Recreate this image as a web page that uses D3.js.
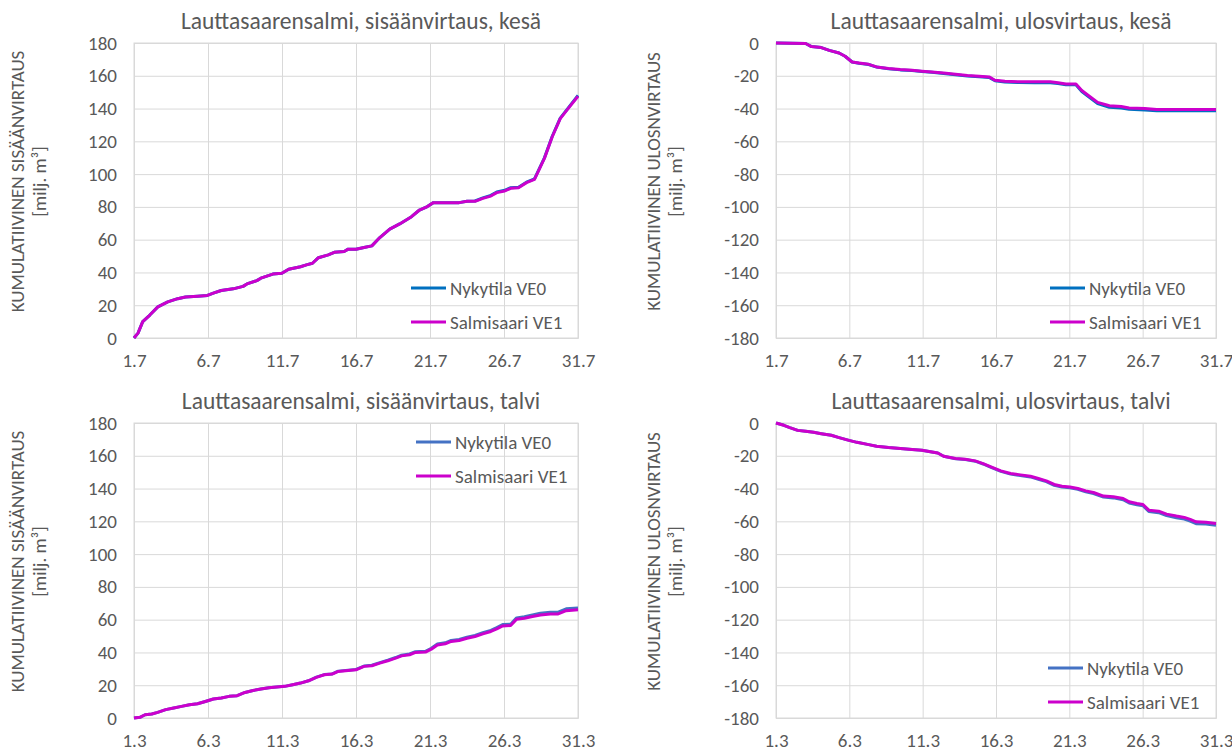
<!DOCTYPE html>
<html>
<head>
<meta charset="utf-8">
<script src="https://cdn.jsdelivr.net/npm/d3@7"></script>
<style>
  html, body { margin: 0; padding: 0; background: #ffffff; }
  svg text { font-family: Carlito, Calibri, Lato, sans-serif; fill: #595959; }
</style>
</head>
<body>
<svg id="chart" width="1232" height="751"></svg>
<script>
// Cumulative flow through Lauttasaarensalmi, day of month (fractional) vs. million m³

const seriesNames = ["Nykytila VE0", "Salmisaari VE1"];
const seriesColorsSummer = ["#0070C0", "#CC00CC"];
const seriesColorsWinter = ["#4472C4", "#CC00CC"];

// Summer inflow (July)
const summerInDays = [1,1.27,1.59,2.07,2.61,3.28,3.95,4.48,5.29,5.96,6.36,6.89,7.70,8.37,8.63,9.30,9.57,10.38,10.99,11.45,12.25,12.65,13.06,13.46,14.13,14.53,15.20,15.47,16.00,16.54,17.07,17.61,18.28,18.95,19.75,20.29,20.82,21.23,21.89,22.97,23.50,24.04,24.57,25.11,25.51,26.05,26.45,26.98,27.52,28.06,28.73,29.26,29.80,30.33,31.0];
const summerInVE0 = [0,3,10,14,19,22,24,25,25.5,26,27.4,29,30,31.5,33,35,36.5,39,39.5,42,43.5,44.6,45.6,49,50.7,52.3,52.8,54.2,54.2,55.2,56.2,61.3,66.4,69.6,74,78.1,80.2,82.6,82.6,82.6,83.4,83.6,85.5,87,89.1,90.1,91.7,92,95.1,97.1,109.9,123.1,134.2,140.3,148];
const summerInVE1 = [0,3,10,14,19,22,24,25,25.5,26,27.4,29,30,31.5,33,35,36.5,39,39.5,42,43.5,44.6,45.6,49,50.7,52.3,52.8,54.2,54.2,55.2,56.2,61.3,66.4,69.6,74,78.1,80.2,82.6,82.6,82.6,83.4,83.4,85.2,86.6,88.7,89.7,91.3,91.7,94.8,96.8,109.6,122.8,133.9,140,147.5];

// Summer outflow (July)
const summerOutDays = [1,3.02,3.42,4.09,4.63,5.3,5.71,6.19,6.65,7.32,7.86,8.67,9.47,10.28,10.95,11.63,12.43,13.24,14.05,14.85,15.53,15.93,16.6,17.54,18.62,19.7,20.23,20.77,21.45,21.85,22.39,22.93,23.73,24.54,25.08,26.15,26.96,27.77,29.11,31];
const summerOutVE0 = [0,-0.3,-2.2,-2.8,-4.5,-6.1,-8.1,-11.6,-12.3,-13.1,-14.7,-15.7,-16.4,-16.8,-17.4,-17.9,-18.6,-19.4,-20.2,-20.6,-21,-23,-23.8,-24.1,-24.2,-24.2,-24.7,-25.5,-25.5,-29.6,-33.3,-37,-39.2,-39.7,-40.5,-40.9,-41.4,-41.4,-41.4,-41.4];
const summerOutVE1 = [0,-0.3,-2.2,-2.8,-4.5,-6.1,-8.1,-11.6,-12.2,-13,-14.6,-15.6,-16.2,-16.6,-17.2,-17.7,-18.3,-19.1,-19.9,-20.3,-20.7,-22.7,-23.4,-23.7,-23.7,-23.7,-24.2,-25,-25,-29,-32.6,-36.2,-38.3,-38.8,-39.6,-40,-40.6,-40.6,-40.6,-40.6];

// Winter inflow (March)
const winterInDays = [1,1.4,1.75,2.2,2.6,3.14,3.68,4.21,4.75,5.29,5.82,6.36,6.9,7.43,7.97,8.5,9.04,9.57,10.11,10.64,11.18,11.72,12.25,12.79,13.32,13.86,14.39,14.8,15.47,16,16.54,17.07,17.61,18.15,18.68,19.08,19.62,20.02,20.69,21.09,21.5,22.03,22.43,22.97,23.5,24.04,24.57,25.11,25.51,25.91,26.45,26.85,27.38,27.92,28.46,29.13,29.66,30.2,31];
const winterInVE0 = [0,0.4,2,2.4,3.4,5.1,6.1,7.1,8.1,8.7,10.1,11.6,12.2,13.2,13.6,15.6,16.8,17.7,18.5,18.9,19.3,20.3,21.3,22.7,24.9,26.5,26.9,28.6,29.2,29.6,31.7,32.2,33.8,35.3,36.9,38.3,39.1,40.5,40.7,42.5,45.1,45.9,47.3,47.9,49.3,50.4,52,53.5,55.1,57,57.2,61.1,61.8,62.9,63.9,64.6,64.6,66.6,67.1];
const winterInVE1 = [0,0.4,2,2.4,3.4,5.1,6.1,7.1,8.1,8.7,10.1,11.6,12.2,13.2,13.6,15.6,16.8,17.7,18.5,18.9,19.3,20.3,21.3,22.7,24.8,26.4,26.8,28.4,29,29.4,31.5,31.9,33.5,34.9,36.5,37.9,38.6,40,40.2,42,44.6,45.3,46.7,47.3,48.7,49.7,51.3,52.8,54.4,56.2,56.4,60.3,60.9,61.9,62.9,63.5,63.5,65.5,66];

// Winter outflow (March)
const winterOutDays = [1,1.54,1.94,2.48,3.02,3.56,4.09,4.77,5.3,5.98,6.52,7.32,7.86,8.67,9.47,10.28,10.95,11.63,12.03,12.43,13.24,13.91,14.58,15.12,15.66,16.33,17,17.54,18.35,18.89,19.43,19.97,20.5,21.04,21.58,22.12,22.65,23.33,24,24.67,25.08,25.61,26.02,26.42,27.09,27.63,28.3,28.84,29.24,29.64,30.31,31];
const winterOutVE0 = [0,-1.4,-2.8,-4.5,-5.1,-5.7,-6.5,-7.5,-8.9,-10.6,-11.8,-13.2,-14.2,-15,-15.6,-16.2,-16.6,-17.7,-18.3,-20.3,-21.8,-22.3,-23.3,-25,-27.1,-29.5,-31.2,-31.9,-32.9,-34.3,-35.8,-38,-39.1,-39.5,-40.5,-42,-43,-45.2,-45.7,-46.8,-48.8,-49.9,-50.5,-54,-54.7,-56.5,-57.8,-58.6,-59.8,-61.4,-61.6,-62.4];
const winterOutVE1 = [0,-1.4,-2.8,-4.5,-5.1,-5.7,-6.5,-7.5,-8.9,-10.6,-11.8,-13.2,-14.2,-15,-15.6,-16.2,-16.6,-17.7,-18.3,-20.3,-21.7,-22.1,-23.1,-24.8,-26.8,-29.2,-30.8,-31.5,-32.5,-33.9,-35.3,-37.5,-38.6,-39,-40,-41.4,-42.4,-44.6,-45,-46.1,-48.1,-49.1,-49.7,-53.2,-53.8,-55.6,-56.8,-57.6,-58.8,-60.3,-60.5,-61.3];

// Axis ticks
const xTickDays = [1, 6, 11, 16, 21, 26, 31];
const inflowTicks = [0, 20, 40, 60, 80, 100, 120, 140, 160, 180];
const outflowTicks = [0, -20, -40, -60, -80, -100, -120, -140, -160, -180];

const titles = [
  "Lauttasaarensalmi, sisäänvirtaus, kesä",
  "Lauttasaarensalmi, ulosvirtaus, kesä",
  "Lauttasaarensalmi, sisäänvirtaus, talvi",
  "Lauttasaarensalmi, ulosvirtaus, talvi"
];
const yTitlesInflow = ["KUMULATIIVINEN SISÄÄNVIRTAUS", "[milj. m³]"];
const yTitlesOutflow = ["KUMULATIIVINEN ULOSNVIRTAUS", "[milj. m³]"];

// Panel geometry (pixels)
const panels = [
  { title: titles[0], yTitle: yTitlesInflow, days: summerInDays, ve0: summerInVE0, ve1: summerInVE1,
    domain: [0, 180], ticks: inflowTicks, month: "7", colors: seriesColorsSummer,
    x0: 134, x1: 578, y0: 43, y1: 338, yt: [24, 46], leg: { x: 411, y: [288, 322] } },
  { title: titles[1], yTitle: yTitlesOutflow, days: summerOutDays, ve0: summerOutVE0, ve1: summerOutVE1,
    domain: [-180, 0], ticks: outflowTicks, month: "7", colors: seriesColorsSummer,
    x0: 776, x1: 1216, y0: 43, y1: 338, yt: [660, 682], leg: { x: 1050, y: [288, 322] } },
  { title: titles[2], yTitle: yTitlesInflow, days: winterInDays, ve0: winterInVE0, ve1: winterInVE1,
    domain: [0, 180], ticks: inflowTicks, month: "3", colors: seriesColorsWinter,
    x0: 134, x1: 578, y0: 423, y1: 718, yt: [24, 46], leg: { x: 416, y: [442, 476] } },
  { title: titles[3], yTitle: yTitlesOutflow, days: winterOutDays, ve0: winterOutVE0, ve1: winterOutVE1,
    domain: [-180, 0], ticks: outflowTicks, month: "3", colors: seriesColorsWinter,
    x0: 776, x1: 1216, y0: 423, y1: 718, yt: [660, 682], leg: { x: 1048, y: [668, 702] } }
];

const svg = d3.select("#chart");
const TICK_FONT = "19px";
const GRID = "#d9d9d9";

panels.forEach(p => {
  const x = d3.scaleLinear().domain([1, 31]).range([p.x0, p.x1]);
  const y = d3.scaleLinear().domain(p.domain).range([p.y1, p.y0]);
  const g = svg.append("g");

  // horizontal gridlines + value labels
  g.append("g")
    .attr("transform", `translate(${p.x0},0)`)
    .call(d3.axisLeft(y).tickValues(p.ticks).tickSize(-(p.x1 - p.x0)).tickFormat(d => d).tickPadding(17))
    .call(a => a.select(".domain").remove())
    .call(a => a.selectAll("line").attr("stroke", GRID).attr("stroke-width", 1))
    .call(a => a.selectAll("text").attr("font-size", TICK_FONT).attr("fill", "#595959")
      .style("font-family", "Carlito, Calibri, Lato, sans-serif"));

  // vertical gridlines + date labels
  g.append("g")
    .attr("transform", `translate(0,${p.y1})`)
    .call(d3.axisBottom(x).tickValues(xTickDays).tickSize(-(p.y1 - p.y0)).tickFormat(d => d + "." + p.month).tickPadding(16))
    .call(a => a.select(".domain").attr("stroke", GRID))
    .call(a => a.selectAll("line").attr("stroke", GRID).attr("stroke-width", 1))
    .call(a => a.selectAll("text").attr("font-size", TICK_FONT).attr("fill", "#595959")
      .style("font-family", "Carlito, Calibri, Lato, sans-serif"));

  // plot area frame
  g.append("rect")
    .attr("x", p.x0).attr("y", p.y0)
    .attr("width", p.x1 - p.x0).attr("height", p.y1 - p.y0)
    .attr("fill", "none").attr("stroke", GRID);

  // title
  g.append("text")
    .attr("x", (p.x0 + p.x1) / 2 + 5).attr("y", p.y0 - 14)
    .attr("text-anchor", "middle").attr("font-size", "23.5px")
    .text(p.title);

  // y-axis title, two lines
  const cy = (p.y0 + p.y1) / 2 - 9;
  p.yTitle.forEach((t, i) => {
    g.append("text")
      .attr("transform", `translate(${p.yt[i]},${cy}) rotate(-90)`)
      .attr("text-anchor", "middle").attr("font-size", "19px")
      .text(t);
  });

  // series lines
  const line = d3.line()
    .x(d => x(d[0]))
    .y(d => y(d[1]));
  [p.ve0, p.ve1].forEach((vals, i) => {
    g.append("path")
      .datum(p.days.map((d, k) => [d, vals[k]]))
      .attr("fill", "none")
      .attr("stroke", p.colors[i])
      .attr("stroke-width", 3)
      .attr("stroke-linejoin", "round")
      .attr("d", line);
  });

  // legend
  seriesNames.forEach((name, i) => {
    const ly = p.leg.y[i];
    g.append("line")
      .attr("x1", p.leg.x).attr("x2", p.leg.x + 35)
      .attr("y1", ly).attr("y2", ly)
      .attr("stroke", p.colors[i]).attr("stroke-width", 3);
    g.append("text")
      .attr("x", p.leg.x + 39).attr("y", ly + 6.5)
      .attr("font-size", TICK_FONT)
      .text(name);
  });
});
</script>
</body>
</html>
